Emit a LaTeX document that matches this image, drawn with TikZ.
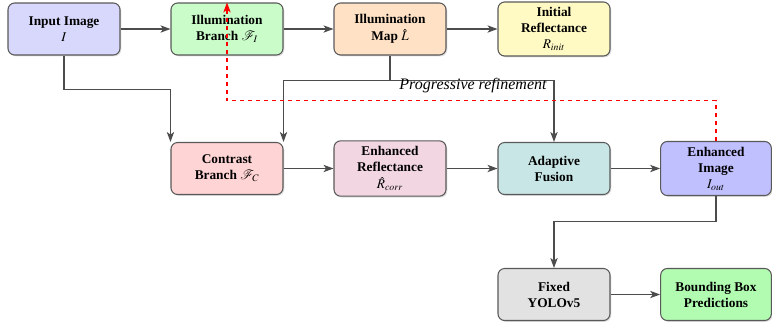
\documentclass[tikz,border=0pt]{standalone}
\definecolor{inputC}{RGB}{216, 216, 252}
\definecolor{illbC}{RGB}{202, 252, 202}
\definecolor{mapC}{RGB}{255, 226, 198}
\definecolor{initC}{RGB}{255, 250, 196}
\definecolor{contrC}{RGB}{255, 212, 212}
\definecolor{enhrC}{RGB}{242, 214, 226}
\definecolor{fusC}{RGB}{200, 230, 230}
\definecolor{enhiC}{RGB}{192, 192, 255}
\definecolor{yoloC}{RGB}{226, 226, 226}
\definecolor{bboxC}{RGB}{178, 252, 178}
\usepackage{mathptmx}
\usepackage{mathrsfs}
\usepackage{fontspec}
\setmainfont{Liberation Serif}
\usepackage{tikz}
\usetikzlibrary{arrows.meta, positioning, calc, shadows}

\begin{document}
\begin{tikzpicture}[x=0.75pt, y=-0.75pt,
    block/.style={draw=black!65, thick, rounded corners=5pt, align=center,
        minimum width=84pt, minimum height=39pt, inner ysep=4pt,
        font=\bfseries, drop shadow={shadow xshift=1pt, shadow yshift=-1pt, opacity=0.25}},
    arr/.style={-{Stealth[length=7.5pt, width=5.5pt, inset=2pt]}, thick, black!70},
    fb/.style={-{Stealth[length=7.5pt, width=5.5pt, inset=2pt]}, thick, red, dashed}]
    \useasboundingbox (0,0) rectangle (772,330);

    % top row
    \node[block, fill=inputC] (input) at (64,29) {Input Image\\ $I$};
    \node[block, fill=illbC] (illb) at (227,29) {Illumination\\ Branch $\mathscr{F}_I$};
    \node[block, fill=mapC] (map) at (390,29) {Illumination\\[1pt] Map $\hat{L}$};
    \node[block, fill=initC] (init) at (554,29) {Initial\\ Reflectance\\ \mdseries$R_{init}$};

    % middle row
    \node[block, fill=contrC] (contr) at (227,168.5) {Contrast\\ Branch $\mathscr{F}_C$};
    \node[block, fill=enhrC] (enhr) at (390,168.5) {Enhanced\\ Reflectance\\[1pt] \mdseries$\hat{R}_{corr}$};
    \node[block, fill=fusC] (fus) at (554,168.5) {Adaptive\\ Fusion};
    \node[block, fill=enhiC, minimum width=83pt] (enhi) at (716,168.5) {Enhanced\\ Image\\ \mdseries$I_{out}$};

    % detection
    \node[block, fill=yoloC] (yolo) at (554,294.5) {Fixed\\ YOLOv5};
    \node[block, fill=bboxC, minimum width=83pt] (bbox) at (716,294.5) {Bounding Box\\ Predictions};

    \draw[arr] (input) -- (illb);
    \draw[arr] (illb) -- (map);
    \draw[arr] (map) -- (init);
    \draw[arr] (input.south) -- ++(0,34) -| (contr.north west);
    \draw[arr] (map.south) -- ++(0,25) -| (contr.north east);
    \draw[arr] (map.south) -- ++(0,25) -| (fus.north);
    \draw[arr] (contr) -- (enhr);
    \draw[arr] (enhr) -- (fus);
    \draw[arr] (fus) -- (enhi);
    \draw[arr] (enhi.south) -- ++(0,25) -| (yolo.north);
    \draw[arr] (yolo) -- (bbox);

    % feedback
    \draw[fb] (enhi.north) -- ++(0,-40) -| (illb.north);
    \node[font=\large\itshape] (refine) at (473,86) {Progressive refinement};
\end{tikzpicture}
\end{document}
